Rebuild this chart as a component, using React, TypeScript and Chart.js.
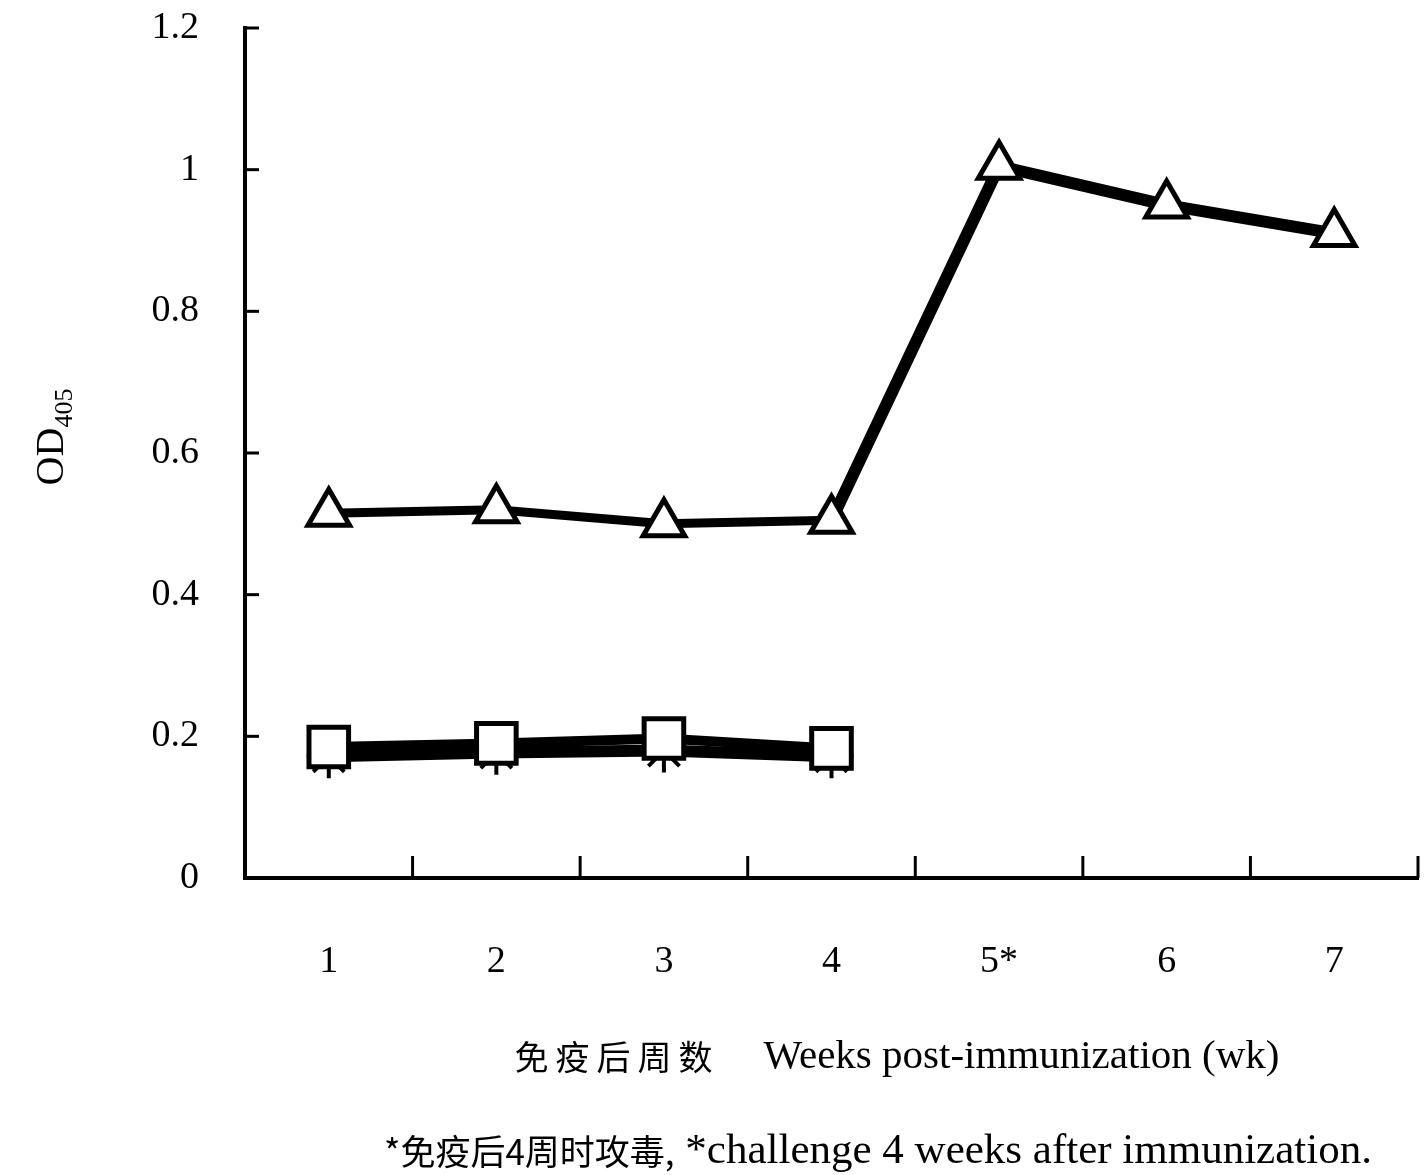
import React, { useEffect, useRef } from "react";
import { Chart, registerables } from "chart.js";

Chart.register(...registerables);

// ---- data ----
const weeks = ["1", "2", "3", "4", "5*", "6", "7"];
const challengedGroup = [0.515, 0.52, 0.5, 0.505, 1.005, 0.95, 0.91];
const controlGroup = [0.185, 0.19, 0.197, 0.183, null, null, null];
const controlGroupB = [0.172, 0.177, 0.18, 0.172, null, null, null];
const yTickLabels = ["0", "0.2", "0.4", "0.6", "0.8", "1", "1.2"];
const yTickValues = [0, 0.2, 0.4, 0.6, 0.8, 1.0, 1.2];

const yTitleMain = "OD";
const yTitleSub = "405";
const xTitleCn = "免疫后周数";
const xTitleEn = "Weeks post-immunization (wk)";
const footCn = "*免疫后4周时攻毒,";
const footEn = " *challenge 4 weeks after immunization.";

const SERIF = "'Liberation Serif', 'DejaVu Serif', serif";
const CJK = "'Noto Sans CJK SC', sans-serif";

const zeroPad = (s: any) => {
  s.paddingTop = 0;
  s.paddingBottom = 0;
  s.paddingLeft = 0;
  s.paddingRight = 0;
};

const decorPlugin = {
  id: "decor",
  afterDraw(chart: any) {
    const { ctx } = chart;
    const x = chart.scales.x;
    const y = chart.scales.y;
    ctx.save();
    ctx.strokeStyle = "#000";
    ctx.fillStyle = "#000";
    ctx.lineWidth = 3;
    // inward y tick marks
    yTickValues.forEach((v) => {
      const py = y.getPixelForValue(v);
      ctx.beginPath();
      ctx.moveTo(x.left, py);
      ctx.lineTo(x.left + 14, py);
      ctx.stroke();
    });
    // inward x tick marks at category boundaries
    for (let i = 1; i <= weeks.length; i++) {
      const px = x.getPixelForValue(i - 0.5);
      ctx.beginPath();
      ctx.moveTo(px, y.bottom);
      ctx.lineTo(px, y.bottom - 22);
      ctx.stroke();
    }

    // y axis title (rotated)
    ctx.save();
    ctx.translate(52, 437);
    ctx.rotate(-Math.PI / 2);
    ctx.textBaseline = "middle";
    ctx.textAlign = "left";
    ctx.font = `40px ${SERIF}`;
    const wMain = ctx.measureText(yTitleMain).width;
    ctx.font = `26px ${SERIF}`;
    const wSub = ctx.measureText(yTitleSub).width;
    const total = wMain + wSub;
    ctx.font = `40px ${SERIF}`;
    ctx.fillText(yTitleMain, -total / 2, 0);
    ctx.font = `26px ${SERIF}`;
    ctx.fillText(yTitleSub, -total / 2 + wMain, 13);
    ctx.restore();

    // x axis title
    ctx.textBaseline = "middle";
    ctx.textAlign = "left";
    ctx.font = `34px ${CJK}`;
    (ctx as any).letterSpacing = "7px";
    const wCn = ctx.measureText(xTitleCn).width;
    (ctx as any).letterSpacing = "0px";
    ctx.font = `41px ${SERIF}`;
    const wEn = ctx.measureText(xTitleEn).width;
    const gap = 44;
    const sx = 897 - (wCn + gap + wEn) / 2;
    ctx.font = `34px ${CJK}`;
    (ctx as any).letterSpacing = "7px";
    ctx.fillText(xTitleCn, sx, 1057);
    (ctx as any).letterSpacing = "0px";
    ctx.font = `41px ${SERIF}`;
    ctx.fillText(xTitleEn, sx + wCn + gap, 1057);

    // footnote
    ctx.font = `35px ${CJK}`;
    const wFc = ctx.measureText(footCn).width;
    ctx.font = `43px ${SERIF}`;
    const wFe = ctx.measureText(footEn).width;
    const fx = 878 - (wFc + wFe) / 2;
    ctx.font = `35px ${CJK}`;
    ctx.fillText(footCn, fx, 1152);
    ctx.font = `43px ${SERIF}`;
    ctx.fillText(footEn, fx + wFc, 1152);

    ctx.restore();
  },
};

export default function App() {
  const ref = useRef<HTMLCanvasElement | null>(null);

  useEffect(() => {
    if (!ref.current) return;
    const chart = new Chart(ref.current, {
      type: "line",
      data: {
        labels: weeks,
        datasets: [
          {
            label: "challenged",
            data: challengedGroup,
            borderColor: "#000",
            borderWidth: 9,
            segment: {
              borderWidth: (c: any) => (c.p0DataIndex >= 3 ? 12 : 9),
            },
            pointStyle: "triangle",
            pointRadius: 24,
            pointBorderWidth: 5,
            pointBackgroundColor: "#fff",
            pointBorderColor: "#000",
            tension: 0,
            clip: false,
          },
          {
            label: "control",
            data: controlGroup,
            borderColor: "#000",
            borderWidth: 10,
            pointStyle: "rect",
            pointRadius: 28,
            pointBorderWidth: 5,
            pointBackgroundColor: "#fff",
            pointBorderColor: "#000",
            tension: 0,
            clip: false,
          },
          {
            label: "control B",
            data: controlGroupB,
            borderColor: "#000",
            borderWidth: 12,
            pointStyle: "star",
            pointRadius: 22,
            pointBorderWidth: 4,
            pointBackgroundColor: "#000",
            pointBorderColor: "#000",
            tension: 0,
            clip: false,
          },
        ],
      },
      options: {
        responsive: false,
        animation: false,
        events: [],
        layout: { autoPadding: false, padding: { top: 28, right: 10, left: 0, bottom: 0 } },
        plugins: {
          legend: { display: false },
          tooltip: { enabled: false },
          title: { display: false },
        },
        scales: {
          x: {
            type: "category",
            offset: true,
            grid: { display: false, offset: true },
            border: { display: true, color: "#000", width: 4 },
            ticks: {
              color: "#000",
              font: { family: SERIF, size: 38 },
              padding: 53,
              maxRotation: 0,
              autoSkip: false,
            },
            afterFit: (s: any) => {
              s.height = 1175 - 878;
              zeroPad(s);
            },
          },
          y: {
            min: 0,
            max: 1.2,
            grid: { display: false },
            border: { display: true, color: "#000", width: 4 },
            ticks: {
              stepSize: 0.2,
              color: "#000",
              font: { family: SERIF, size: 38 },
              padding: 38,
              callback: (_v: any, i: number) => yTickLabels[i],
            },
            afterFit: (s: any) => {
              s.width = 245;
              zeroPad(s);
            },
          },
        },
      },
      plugins: [decorPlugin],
    } as any);
    return () => chart.destroy();
  }, []);

  return (
    <div style={{ position: "absolute", left: 0, top: 0, width: 1428, height: 1175, background: "#fff" }}>
      <canvas ref={ref} width={1428} height={1175} style={{ display: "block" }} />
    </div>
  );
}
